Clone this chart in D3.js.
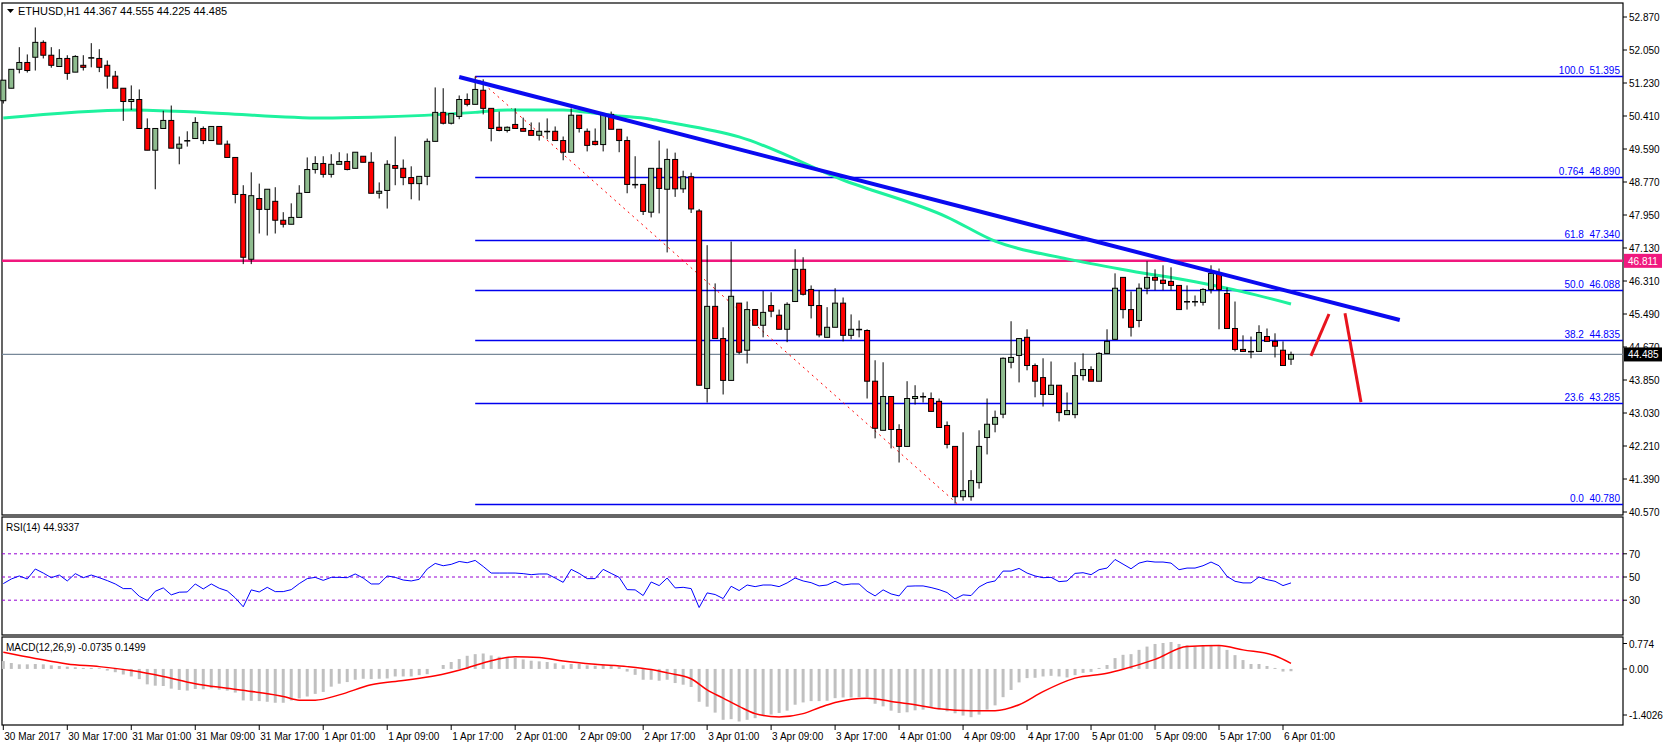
<!DOCTYPE html>
<html>
<head>
<meta charset="utf-8">
<title>ETHUSD H1</title>
<style>
  body { margin: 0; background: #fff; }
  svg { display: block; font-family: "Liberation Sans", Arial, sans-serif; font-size: 10px; }
  .lbl { fill: #000; }
</style>
</head>
<body>
<svg width="1663" height="746"></svg>
<script src="https://d3js.org/d3.v7.min.js"></script>
<script>
// ---- data (hourly bars, index 0 = 30 Mar 09:00) ----
const candles = [ // [open, high, low, close]
[50.79,51.30,50.72,51.30],[51.10,51.57,51.10,51.57],[51.57,52.12,51.47,51.74],[51.74,51.94,51.49,51.54],
[51.87,52.61,51.54,52.24],[52.24,52.29,51.84,51.92],[51.92,52.12,51.61,51.67],[51.64,52.07,51.64,51.84],
[51.84,51.92,51.31,51.47],[51.50,51.92,51.50,51.89],[51.67,51.92,51.54,51.62],[51.86,52.22,51.62,51.86],
[51.84,52.07,51.50,51.62],[51.67,51.79,51.09,51.40],[51.40,51.53,51.10,51.10],[51.10,51.10,50.29,50.77],
[50.77,51.17,50.56,50.82],[50.82,51.07,50.10,50.10],[50.10,50.35,49.56,49.56],[49.56,50.10,48.59,50.10],
[50.10,50.54,50.10,50.30],[50.30,50.67,49.61,49.61],[49.61,49.90,49.21,49.71],[49.80,50.03,49.65,49.80],
[49.85,50.38,49.85,50.25],[50.10,50.15,49.71,49.80],[49.80,50.15,49.80,50.15],[50.15,50.15,49.71,49.71],
[49.71,49.80,49.38,49.38],[49.38,49.38,48.24,48.46],[48.46,48.69,46.73,46.90],[46.85,49.01,46.73,48.43],
[48.36,48.73,47.49,48.09],[48.09,48.59,47.44,48.59],[48.29,48.64,47.49,47.82],[47.82,48.02,47.64,47.72],
[47.72,48.24,47.72,47.89],[47.89,48.69,47.89,48.49],[48.51,49.38,48.51,49.08],[49.08,49.41,48.98,49.23],
[49.23,49.41,48.88,48.96],[48.96,49.46,48.88,49.21],[49.21,49.51,49.21,49.28],[49.28,49.48,49.06,49.08],
[49.11,49.51,49.11,49.51],[49.41,49.41,49.26,49.26],[49.26,49.51,48.49,48.49],[48.49,48.76,48.36,48.54],
[48.56,49.31,48.11,49.21],[49.18,49.90,48.69,49.11],[49.11,49.33,48.69,48.88],[48.88,49.16,48.34,48.73],
[48.73,48.91,48.31,48.91],[48.91,49.85,48.69,49.78],[49.78,51.12,49.78,50.50],[50.50,51.10,50.20,50.23],
[50.23,50.47,50.20,50.47],[50.40,50.92,50.33,50.82],[50.82,50.97,50.65,50.70],[50.70,51.39,50.70,51.07],
[51.05,51.32,50.45,50.60],[50.60,50.60,49.78,50.10],[50.13,50.52,50.03,50.05],[50.05,50.15,50.00,50.13],
[50.20,50.60,50.10,50.10],[50.10,50.37,50.03,50.03],[50.05,50.25,49.93,49.93],[49.93,50.25,49.80,50.03],
[50.03,50.35,49.83,50.03],[50.03,50.15,49.80,49.80],[49.80,49.90,49.31,49.51],[49.51,50.60,49.51,50.43],
[50.43,50.43,50.00,50.10],[50.03,50.10,49.53,49.68],[49.78,50.10,49.68,49.70],[49.70,50.47,49.53,50.45],
[50.45,50.52,50.08,50.08],[50.08,50.08,49.51,49.80],[49.80,49.90,48.49,48.71],[48.71,49.41,48.61,48.71],
[48.71,48.71,47.95,48.04],[48.02,49.11,47.89,49.11],[49.11,49.80,47.99,48.61],[48.59,49.60,47.02,49.33],
[49.33,49.50,48.40,48.60],[48.60,49.05,48.50,48.90],[48.90,49.00,48.00,48.10],[48.05,48.10,43.72,43.72],
[43.64,47.20,43.29,45.68],[45.68,46.25,44.88,44.88],[44.88,45.16,43.49,43.84],[43.84,47.29,43.84,45.93],
[45.76,45.76,44.49,44.54],[44.59,45.80,44.26,45.60],[45.60,45.60,45.21,45.21],[45.21,46.06,44.91,45.53],
[45.70,46.03,45.41,45.56],[45.46,45.60,45.11,45.11],[45.11,45.78,44.79,45.73],[45.80,47.10,45.80,46.60],
[46.60,46.90,45.95,45.98],[46.10,46.20,45.38,45.70],[45.70,46.08,44.91,44.97],[44.91,45.66,44.91,45.16],
[45.16,46.13,45.16,45.76],[45.76,45.90,44.81,44.96],[44.96,45.48,44.86,45.11],[45.11,45.33,44.91,45.11],
[45.08,45.11,43.39,43.82],[43.82,44.34,42.40,42.65],[42.60,44.29,42.60,43.44],[43.44,43.44,42.15,42.62],
[42.62,42.75,41.80,42.20],[42.20,43.82,42.20,43.39],[43.39,43.72,43.24,43.44],[43.44,43.54,43.29,43.44],
[43.39,43.54,43.07,43.07],[43.32,43.39,42.67,42.67],[42.72,42.82,42.15,42.25],[42.20,42.20,40.78,40.95],
[40.95,42.55,40.85,41.10],[40.95,41.61,40.85,41.35],[41.30,42.60,41.15,42.20],[42.42,43.39,42.00,42.75],
[42.75,43.09,42.55,42.92],[43.00,44.41,42.90,44.39],[44.29,45.31,44.14,44.41],[44.46,44.88,43.79,44.88],
[44.91,45.11,44.09,44.21],[44.21,44.26,43.42,43.82],[43.91,44.39,43.19,43.49],[43.49,44.31,43.49,43.72],
[43.72,43.72,42.82,43.04],[42.99,43.54,42.99,43.09],[42.99,44.29,42.90,43.96],[43.96,44.51,43.84,44.11],
[44.11,44.19,43.82,43.82],[43.82,44.54,43.82,44.51],[44.51,45.11,44.51,44.81],[44.86,46.50,44.86,46.13],
[46.40,46.40,45.38,45.60],[45.60,46.05,44.93,45.16],[45.33,46.25,45.16,46.13],[46.13,46.80,45.98,46.40],
[46.40,46.60,46.08,46.33],[46.33,46.70,46.08,46.25],[46.30,46.65,46.08,46.20],[46.20,46.20,45.60,45.60],
[45.80,46.20,45.60,45.80],[45.80,45.95,45.68,45.80],[45.78,46.13,45.70,46.10],[46.10,46.70,46.00,46.50],
[46.50,46.62,45.11,46.10],[46.00,46.15,45.13,45.13],[45.13,45.80,44.56,44.61],[44.61,44.96,44.56,44.56],
[44.56,44.93,44.39,44.56],[44.56,45.21,44.56,45.03],[44.93,45.13,44.81,44.81],[44.81,45.01,44.41,44.69],
[44.59,44.81,44.21,44.21],[44.367,44.555,44.225,44.485]
];

// moving average, read at selected bars [bar, value]
const maPoints = [[0,50.36],[16,50.56],[25,50.5],[40,50.36],[46,50.38],[59,50.5],[63,50.56],[70,50.56],
[73,50.5],[76,50.43],[81,50.33],[83,50.26],[92,49.89],[105,48.82],[118,47.9],[124,47.3],[133,46.86],
[141,46.56],[149,46.29],[155,46.04],[161,45.74]];

const rsi = [44.3,48.3,50.9,48.3,56.9,53.4,49.4,51.7,46.6,52.9,49.4,51.7,49.4,46.9,44,40,40,33.4,29.7,37.7,
40.6,34.6,36.9,37.1,44,39.7,44,40.3,38,32,24.3,38.9,37.1,41.1,37.4,37.4,39.1,44.3,48.6,49.7,
47.1,49.7,49.7,49.4,52.6,49.1,44,44,50.9,49.7,47.4,46.6,48,56.9,61.7,59.7,60.9,63.4,62.3,64.3,
59.1,53.4,53.4,53.4,53.4,52.9,52,52.6,52.6,49.1,45.4,56.6,53.1,48.6,48.6,56.6,53.1,49.7,39.1,38.9,
34,45.7,42.6,49.1,40.6,41.1,40,23.7,36.3,34.9,31.4,42,38.3,43.1,41.7,43.1,43.1,41.7,44.9,49.1,
46.6,45.1,42.3,43.1,46.3,43.1,44,44,37.7,33.7,38.9,35.4,33.7,42,42.3,42.3,40.9,39.1,36.6,31.1,
34.6,34,41.4,45.1,46.6,55.1,55.1,57.4,53.4,50.9,49.4,49.7,46,46.6,53.1,53.7,52,56.3,57.7,65.1,
61.1,57.1,62,63.7,62.9,62.9,62,56.3,57.7,57.7,59.7,62.9,59.7,50.6,46.3,44.9,44.9,50,47.7,46.3,
42.6,44.9];
const rsiLevels = [70, 50, 30];

const macdHist = [0.24,0.18,0.14,0.14,0.15,0.14,0.11,0.09,0.07,0.05,0.03,0.03,0.02,-0.05,-0.10,-0.17,
-0.23,-0.31,-0.47,-0.51,-0.52,-0.6,-0.64,-0.66,-0.61,-0.62,-0.59,-0.63,-0.66,-0.72,-0.96,-0.97,-0.98,
-1.0,-1.03,-1.03,-0.96,-0.9,-0.84,-0.76,-0.7,-0.54,-0.45,-0.40,-0.33,-0.30,-0.31,-0.30,-0.29,-0.23,
-0.23,-0.23,-0.19,-0.16,0,0.12,0.21,0.30,0.40,0.45,0.47,0.41,0.37,0.35,0.33,0.29,0.25,0.23,0.21,0.17,
0.11,0.15,0.15,0.11,0.10,0.13,0.11,0.07,-0.08,-0.18,-0.33,-0.33,-0.36,-0.33,-0.43,-0.48,-0.55,-1.0,
-1.15,-1.33,-1.55,-1.53,-1.6,-1.55,-1.5,-1.44,-1.39,-1.34,-1.27,-1.09,-1.02,-0.98,-0.98,-0.97,-0.89,
-0.87,-0.87,-0.86,-0.86,-1.06,-1.14,-1.27,-1.34,-1.32,-1.26,-1.24,-1.19,-1.24,-1.29,-1.35,-1.42,-1.47,
-1.39,-1.24,-1.11,-0.86,-0.64,-0.41,-0.28,-0.27,-0.23,-0.21,-0.23,-0.26,-0.19,-0.12,-0.09,0.03,0.12,
0.33,0.43,0.45,0.58,0.68,0.76,0.79,0.82,0.76,0.72,0.68,0.70,0.73,0.70,0.58,0.42,0.27,0.15,0.15,0.09,
0.03,-0.08,-0.07];
const macdSignal = [[0,0.51],[4,0.32],[8,0.15],[12,0.07],[16,-0.05],[20,-0.23],[24,-0.45],[28,-0.59],
[32,-0.72],[35,-0.84],[37,-0.95],[39,-0.95],[42,-0.79],[46,-0.48],[50,-0.35],[54,-0.21],[58,0.03],
[61,0.25],[64,0.37],[67,0.35],[70,0.24],[74,0.14],[78,0.07],[81,-0.02],[83,-0.12],[86,-0.30],[88,-0.64],
[90,-0.89],[92,-1.14],[94,-1.36],[97,-1.46],[100,-1.36],[102,-1.18],[104,-1.02],[108,-0.89],[111,-0.99],
[114,-1.09],[117,-1.21],[121,-1.27],[124,-1.27],[127,-1.09],[130,-0.69],[134,-0.28],[138,-0.13],
[140,-0.01],[144,0.29],[148,0.68],[152,0.71],[155,0.58],[159,0.40],[161,0.17]];

const priceTicks = [52.870,52.050,51.230,50.410,49.590,48.770,47.950,47.130,46.310,45.490,44.670,43.850,43.030,42.210,41.390,40.570];
const macdTicks = [[0.774,"0.774"],[0,"0.00"],[-1.4026,"-1.4026"]];
const timeLabels = ["30 Mar 2017","30 Mar 17:00","31 Mar 01:00","31 Mar 09:00","31 Mar 17:00","1 Apr 01:00",
"1 Apr 09:00","1 Apr 17:00","2 Apr 01:00","2 Apr 09:00","2 Apr 17:00","3 Apr 01:00","3 Apr 09:00",
"3 Apr 17:00","4 Apr 01:00","4 Apr 09:00","4 Apr 17:00","5 Apr 01:00","5 Apr 09:00","5 Apr 17:00","6 Apr 01:00"];

// fibonacci levels [label, price]
const fibLevels = [["100.0","51.395"],["0.764","48.890"],["61.8","47.340"],["50.0","46.088"],["38.2","44.835"],["23.6","43.285"],["0.0","40.780"]];
const fibStart = 59, fibEnd = 119.25;
const trendLine = [[57,51.38],[174.6,45.34]];
const arrowPath = [[163.5,44.45],[165.75,45.49]];
const arrowPath2 = [[167.75,45.51],[169.75,43.30]];
const resistance = 46.811, bid = 44.485;

// ---- layout ----
const svg = d3.select("svg");
const axisX = 1623, left = 2;
const x = d3.scaleLinear().domain([0, 161]).range([3.3, 1291]);
const y = d3.scaleLinear().domain([40.57, 52.87]).range([512, 17]);
const yR = d3.scaleLinear().domain([0, 100]).range([635, 519]);
const yM = d3.scaleLinear().domain([-1.4026, 0.774]).range([715, 643.5]);

svg.append("rect").attr("width", 1663).attr("height", 746).attr("fill", "#fff");

// pane frames
const panes = [[3, 515], [517, 635], [637, 725]];
panes.forEach(p => {
  svg.append("rect").attr("x", left).attr("y", p[0]).attr("width", axisX - left).attr("height", p[1] - p[0])
    .attr("fill", "none").attr("stroke", "#000").attr("stroke-width", 1.2);
});

const main = svg.append("g");
// fib horizontal levels
fibLevels.forEach(f => {
  const yy = Math.round(y(+f[1])) + 0.5;
  main.append("line").attr("x1", x(fibStart)).attr("x2", axisX).attr("y1", yy).attr("y2", yy)
    .attr("stroke", "#0000ee").attr("stroke-width", 1.3);
  main.append("text").attr("x", axisX - 3).attr("y", yy - 3).attr("text-anchor", "end")
    .attr("fill", "#0000ff").style("white-space", "pre").text(f[0] + "  " + f[1]);
});
// bid line
main.append("line").attr("x1", left).attr("x2", axisX).attr("y1", y(bid)).attr("y2", y(bid))
  .attr("stroke", "#778899").attr("stroke-width", 1.3);
// resistance line
main.append("line").attr("x1", left).attr("x2", axisX).attr("y1", y(resistance)).attr("y2", y(resistance))
  .attr("stroke", "#f0187e").attr("stroke-width", 2.5);
// fib diagonal
main.append("line").attr("x1", x(fibStart)).attr("y1", y(51.395)).attr("x2", x(fibEnd)).attr("y2", y(40.78))
  .attr("stroke", "#ff0000").attr("stroke-width", 1).attr("stroke-dasharray", "2,4");

// moving average
main.append("path").datum(maPoints)
  .attr("d", d3.line().x(d => x(d[0])).y(d => y(d[1])).curve(d3.curveMonotoneX))
  .attr("fill", "none").attr("stroke", "#1ef29e").attr("stroke-width", 3);

// candles
const cg = main.selectAll("g.c").data(candles).enter().append("g");
cg.append("line").attr("x1", (d, i) => x(i)).attr("x2", (d, i) => x(i))
  .attr("y1", d => y(d[1])).attr("y2", d => y(d[2])).attr("stroke", "#000").attr("stroke-width", 1);
cg.append("rect")
  .attr("x", (d, i) => x(i) - 2.5).attr("width", 5)
  .attr("y", d => y(Math.max(d[0], d[3])))
  .attr("height", d => Math.max(0.5, Math.abs(y(d[0]) - y(d[3]))))
  .attr("fill", d => d[3] >= d[0] ? "#8fbc8f" : "#ff0000")
  .attr("stroke", "#000").attr("stroke-width", 1);

// trend line
main.append("line").attr("x1", x(trendLine[0][0])).attr("y1", y(trendLine[0][1]))
  .attr("x2", x(trendLine[1][0])).attr("y2", y(trendLine[1][1]))
  .attr("stroke", "#0a0af0").attr("stroke-width", 4);
// hand drawn arrows
[arrowPath, arrowPath2].forEach(a => {
  main.append("line").attr("x1", x(a[0][0])).attr("y1", y(a[0][1])).attr("x2", x(a[1][0])).attr("y2", y(a[1][1]))
    .attr("stroke", "#e8141e").attr("stroke-width", 3);
});

// header
svg.append("path").attr("d", "M7,9 L14,9 L10.5,13 Z").attr("fill", "#000");
svg.append("text").attr("class", "lbl").attr("x", 18).attr("y", 15).style("font-size", "11px")
  .text("ETHUSD,H1  44.367 44.555 44.225 44.485");

// price axis
priceTicks.forEach(t => {
  svg.append("line").attr("x1", axisX).attr("x2", axisX + 4).attr("y1", y(t)).attr("y2", y(t)).attr("stroke", "#000");
  svg.append("text").attr("class", "lbl").attr("x", axisX + 6).attr("y", y(t) + 4).text(t.toFixed(3));
});
[[resistance, "#f0187e", "46.811"], [bid, "#000", "44.485"]].forEach(b => {
  svg.append("rect").attr("x", axisX + 1).attr("y", y(b[0]) - 7).attr("width", 38).attr("height", 14).attr("fill", b[1]);
  svg.append("text").attr("x", axisX + 5).attr("y", y(b[0]) + 4).attr("fill", "#fff").text(b[2]);
});

// RSI pane
svg.append("text").attr("class", "lbl").attr("x", 6).attr("y", 531).text("RSI(14) 44.9337");
rsiLevels.forEach(l => {
  svg.append("line").attr("x1", left).attr("x2", axisX).attr("y1", yR(l)).attr("y2", yR(l))
    .attr("stroke", "#9400d3").attr("stroke-dasharray", "3,3");
  svg.append("line").attr("x1", axisX).attr("x2", axisX + 4).attr("y1", yR(l)).attr("y2", yR(l)).attr("stroke", "#000");
  svg.append("text").attr("class", "lbl").attr("x", axisX + 6).attr("y", yR(l) + 4).text(l);
});
svg.append("path").datum(rsi).attr("d", d3.line().x((d, i) => x(i)).y(d => yR(d)))
  .attr("fill", "none").attr("stroke", "#0000ff").attr("stroke-width", 1);

// MACD pane
svg.append("g").selectAll("line").data(macdHist).enter().append("line")
  .attr("x1", (d, i) => x(i)).attr("x2", (d, i) => x(i)).attr("y1", yM(0)).attr("y2", d => yM(d))
  .attr("stroke", "#c0c0c0").attr("stroke-width", 3);
svg.append("path").datum(macdSignal).attr("d", d3.line().x(d => x(d[0])).y(d => yM(d[1])).curve(d3.curveMonotoneX))
  .attr("fill", "none").attr("stroke", "#ff0000").attr("stroke-width", 1.5);
svg.append("text").attr("class", "lbl").attr("x", 6).attr("y", 651).text("MACD(12,26,9) -0.0735 0.1499");
macdTicks.forEach(t => {
  svg.append("line").attr("x1", axisX).attr("x2", axisX + 4).attr("y1", yM(t[0])).attr("y2", yM(t[0])).attr("stroke", "#000");
  svg.append("text").attr("class", "lbl").attr("x", axisX + 6).attr("y", yM(t[0]) + 4).text(t[1]);
});

// time axis
timeLabels.forEach((t, j) => {
  const xx = x(j * 8);
  svg.append("line").attr("x1", xx).attr("x2", xx).attr("y1", 725).attr("y2", 730).attr("stroke", "#000");
  svg.append("text").attr("class", "lbl").attr("x", xx + 1).attr("y", 740).text(t);
});
</script>
</body>
</html>
